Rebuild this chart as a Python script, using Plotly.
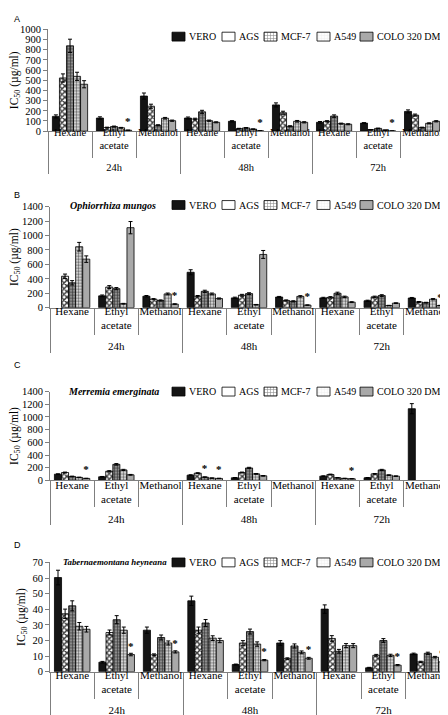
import plotly.graph_objects as go

W, H = 448, 715

# ---------------- data ----------------
times = ["24h"] * 3 + ["48h"] * 3 + ["72h"] * 3
solvents = ["Hexane", "Ethyl<br>acetate", "Methanol"] * 3
cell_lines = ["VERO", "AGS", "MCF-7", "A549", "COLO 320 DM"]

# Panel A
a_vero = [145, 129, 345, 129, 97, 258, 87, 79, 194]
a_ags = [523, 35, 245, 119, 25, 181, 97, 14, 158]
a_mcf7 = [839, 45, 58, 190, 32, 48, 148, 27, 35]
a_a549 = [539, 33, 127, 103, 20, 97, 74, 10, 77]
a_colo = [461, 9, 103, 87, 3, 87, 68, 2, 97]
a_err = [
    [15, 12, 30, 10, 6, 20, 8, 5, 15],
    [40, 4, 20, 8, 3, 15, 6, 2, 10],
    [65, 5, 5, 15, 3, 5, 12, 3, 4],
    [40, 4, 8, 6, 2, 8, 5, 1, 5],
    [35, 1, 6, 5, 1, 6, 5, 1, 6],
]
a_star = [[], [], [], [], [1, 4, 7]]

# Panel B - Ophiorrhiza mungos
b_vero = [None, 164, 159, 491, 136, 148, 136, 96, 134]
b_ags = [436, 286, 118, 159, 173, 100, 143, 150, 80]
b_mcf7 = [345, 264, 100, 227, 195, 88, 200, 168, 70]
b_a549 = [845, 55, 191, 191, 41, 157, 150, 30, 118]
b_colo = [673, 1109, 50, 127, 738, 36, 77, 63, 30]
b_err = [
    [0, 12, 10, 35, 10, 8, 8, 8, 8],
    [30, 20, 8, 10, 12, 8, 10, 10, 6],
    [30, 15, 8, 15, 12, 8, 15, 12, 5],
    [60, 5, 12, 12, 4, 10, 10, 3, 8],
    [45, 85, 4, 8, 55, 3, 6, 5, 3],
]
b_star = [[], [], [], [], [2, 5, 8]]

# Panel C - Merremia emerginata
c_vero = [98, 57, None, 83, 41, None, 67, 41, 1130]
c_ags = [124, 145, None, 114, 124, None, 93, 103, None]
c_mcf7 = [62, 253, None, 52, 196, None, 41, 165, None]
c_a549 = [47, 165, None, 36, 103, None, 31, 83, None]
c_colo = [31, 88, None, 31, 72, None, 26, 67, None]
c_err = [
    [6, 5, 0, 6, 4, 0, 5, 4, 80],
    [7, 8, 0, 7, 7, 0, 6, 6, 0],
    [5, 12, 0, 4, 10, 0, 4, 9, 0],
    [4, 9, 0, 3, 6, 0, 3, 5, 0],
    [3, 6, 0, 3, 5, 0, 2, 4, 0],
]
c_star = [[], [], [3], [], [0, 3, 6]]

# Panel D - Tabernaemontana heyneana
d_vero = [60.3, 6.1, 26.6, 45.4, 4.6, 18.4, 40.1, 2.5, 11.4]
d_ags = [37.1, 25.1, 10.8, 26.6, 18.4, 8.4, 21.3, 10.5, 6.3]
d_mcf7 = [42.2, 33.3, 21.9, 31.2, 25.7, 16.5, 13.1, 20.0, 11.8]
d_a549 = [29.1, 26.6, 18.4, 21.5, 17.7, 12.4, 16.7, 10.5, 9.3]
d_colo = [27.2, 11.0, 12.7, 20.0, 7.4, 8.6, 16.7, 4.2, 6.3]
d_err = [
    [4.7, 0.5, 2.0, 3.0, 0.3, 1.5, 2.7, 0.3, 0.5],
    [3.0, 1.6, 0.6, 2.0, 1.5, 0.5, 1.8, 0.6, 0.4],
    [3.2, 2.6, 1.6, 2.2, 1.6, 1.3, 1.2, 1.2, 0.7],
    [2.4, 2.0, 1.3, 1.5, 1.4, 0.9, 1.3, 0.7, 0.5],
    [1.8, 0.8, 0.7, 1.4, 0.4, 0.6, 1.3, 0.4, 0.4],
]
d_star = [[], [], [], [], [1, 2, 4, 5, 7, 8]]

panels = [
    dict(letter="A", title=None, series=[a_vero, a_ags, a_mcf7, a_a549, a_colo],
         err=a_err, star=a_star, yr=1000, dt=100, top=16.7, bot=120, x0=40, x1=441,
         leg=24, let_y=6, tx=0, ts=10, so=-9, lf=10.5),
    dict(letter="B", title="Ophiorrhiza mungos", series=[b_vero, b_ags, b_mcf7, b_a549, b_colo],
         err=b_err, star=b_star, yr=1400, dt=200, top=196.7, bot=299.3, x0=42, x1=445,
         leg=195, let_y=185, tx=60, ts=10, so=-7, lf=11),
    dict(letter="C", title="Merremia emerginata", series=[c_vero, c_ags, c_mcf7, c_a549, c_colo],
         err=c_err, star=c_star, yr=1400, dt=200, top=384.5, bot=474.7, x0=42, x1=445,
         leg=384.5, let_y=357, tx=58, ts=10, so=-6, lf=11),
    dict(letter="D", title="Tabernaemontana heyneana", series=[d_vero, d_ags, d_mcf7, d_a549, d_colo],
         err=d_err, star=d_star, yr=70, dt=10, top=558, bot=669, x0=42, x1=447,
         leg=558, let_y=540, tx=53, ts=8.8, so=-7, lf=11),
]

# ---------------- styles ----------------
SERIF = "Liberation Serif, Times New Roman, serif"
AX = "#7f7f7f"
styles = [
    dict(color="#141414", shape="", fg="#141414", bg="#141414", size=4, sol=0.4),
    dict(color="#ffffff", shape="x", fg="#3a3a3a", bg="#ffffff", size=4, sol=0.6),
    dict(color="#8c8c8c", shape="+", fg="#333333", bg="#8c8c8c", size=3, sol=0.35),
    dict(color="#f2f2f2", shape=".", fg="#666666", bg="#f2f2f2", size=3, sol=0.5),
    dict(color="#a9a9a9", shape="", fg="#a9a9a9", bg="#a9a9a9", size=4, sol=0.4),
]

def pat(st):
    if not st["shape"]:
        return dict(shape="")
    return dict(shape=st["shape"], fgcolor=st["fg"], bgcolor=st["bg"], size=st["size"],
                solidity=st["sol"], fillmode="replace")

fig = go.Figure()
layout = dict(
    width=W, height=H, margin=dict(l=0, r=0, t=0, b=0),
    paper_bgcolor="white", plot_bgcolor="rgba(0,0,0,0)",
    barmode="group", bargap=0.2, bargroupgap=0.0,
    showlegend=False, font=dict(family=SERIF, color="black", size=11),
)
annotations = []

for i, p in enumerate(panels, start=1):
    xa, ya = f"x{i}", f"y{i}"
    for k in range(5):
        txt = ["<b>*</b>" if j in p["star"][k] else "" for j in range(9)]
        fig.add_trace(go.Bar(
            x=[times, solvents], y=p["series"][k], name=cell_lines[k],
            xaxis=xa, yaxis=ya,
            marker=dict(color=styles[k]["color"], pattern=pat(styles[k]),
                        line=dict(color="black", width=0.8)),
            error_y=dict(type="data", array=p["err"][k], visible=True,
                         color="black", thickness=1, width=2),
            text=txt, textposition="outside", textangle=0, constraintext="none",
            cliponaxis=False,
            textfont=dict(family=SERIF, size=11, color="black"),
            outsidetextfont=dict(family=SERIF, size=11, color="black"),
        ))
    key = "" if i == 1 else str(i)
    layout["xaxis" + key] = dict(
        type="multicategory", domain=[p["x0"] / W, p["x1"] / W], anchor=ya,
        range=[-0.5, 8.5 + 5 / 45.0],
        showline=True, linecolor=AX, linewidth=1,
        ticks="outside", tickson="boundaries", ticklen=26, tickcolor=AX, tickwidth=1,
        ticklabelstandoff=p["so"], tickangle=0,
        showdividers=True, dividercolor=AX, dividerwidth=1,
        tickfont=dict(family=SERIF, size=p["lf"], color="black"),
        showgrid=False, zeroline=False, fixedrange=True,
    )
    layout["yaxis" + key] = dict(
        domain=[1 - p["bot"] / H, 1 - p["top"] / H], anchor=xa,
        range=[0, p["yr"]], dtick=p["dt"], tick0=0,
        showline=True, linecolor=AX, linewidth=1,
        ticks="outside", ticklen=4, tickcolor=AX,
        tickfont=dict(family=SERIF, size=10.5, color="black"),
        title=dict(text="IC<sub>50</sub> (µg/ml)", font=dict(family=SERIF, size=11.5), standoff=4),
        showgrid=False, zeroline=False, fixedrange=True,
    )
    annotations.append(dict(xref="paper", yref="paper", x=4 / W, y=1 - p["let_y"] / H,
                            text=p["letter"], showarrow=False, xanchor="left", yanchor="middle",
                            font=dict(family="Liberation Sans, Arial, sans-serif", size=9)))
    if p["title"]:
        annotations.append(dict(xref="paper", yref="paper", x=p["tx"] / W, y=1 - p["leg"] / H,
                                text=f"<b><i>{p['title']}</i></b>", showarrow=False,
                                xanchor="left", yanchor="middle",
                                font=dict(family=SERIF, size=p["ts"])))

# legend swatches (pattern bars on an overlay px axis) + labels
sw_left = [164, 214, 256, 309, 352]
sw_w = 13
sw_h = 9
lx, lbase, lw = [], [], []
pshape, pfg, pbg, psize, psol, mcol = [], [], [], [], [], []
for p in panels:
    for k in range(5):
        st = styles[k]
        lx.append(sw_left[k] + sw_w / 2)
        lbase.append(p["leg"] - sw_h / 2)
        lw.append(sw_w)
        pshape.append(st["shape"])
        pfg.append(st["fg"])
        pbg.append(st["bg"])
        psize.append(st["size"])
        psol.append(st["sol"])
        mcol.append(st["color"])
        annotations.append(dict(xref="x5", yref="y5", x=sw_left[k] + sw_w + 2, y=p["leg"],
                                text=cell_lines[k], showarrow=False, xanchor="left", yanchor="middle",
                                font=dict(family=SERIF, size=10)))
fig.add_trace(go.Bar(
    x=lx, y=[sw_h] * len(lx), base=lbase, width=lw, xaxis="x5", yaxis="y5",
    marker=dict(color=mcol, line=dict(color="black", width=0.8),
                pattern=dict(shape=pshape, fgcolor=pfg, bgcolor=pbg,
                             size=psize, solidity=psol, fillmode="replace")),
    hoverinfo="skip", showlegend=False,
))
layout["xaxis5"] = dict(domain=[0, 1], range=[0, W], visible=False, anchor="y5", fixedrange=True)
layout["yaxis5"] = dict(domain=[0, 1], range=[H, 0], visible=False, anchor="x5", fixedrange=True)
layout["annotations"] = annotations

fig.update_layout(**layout)
fig.write_html("out.html")
